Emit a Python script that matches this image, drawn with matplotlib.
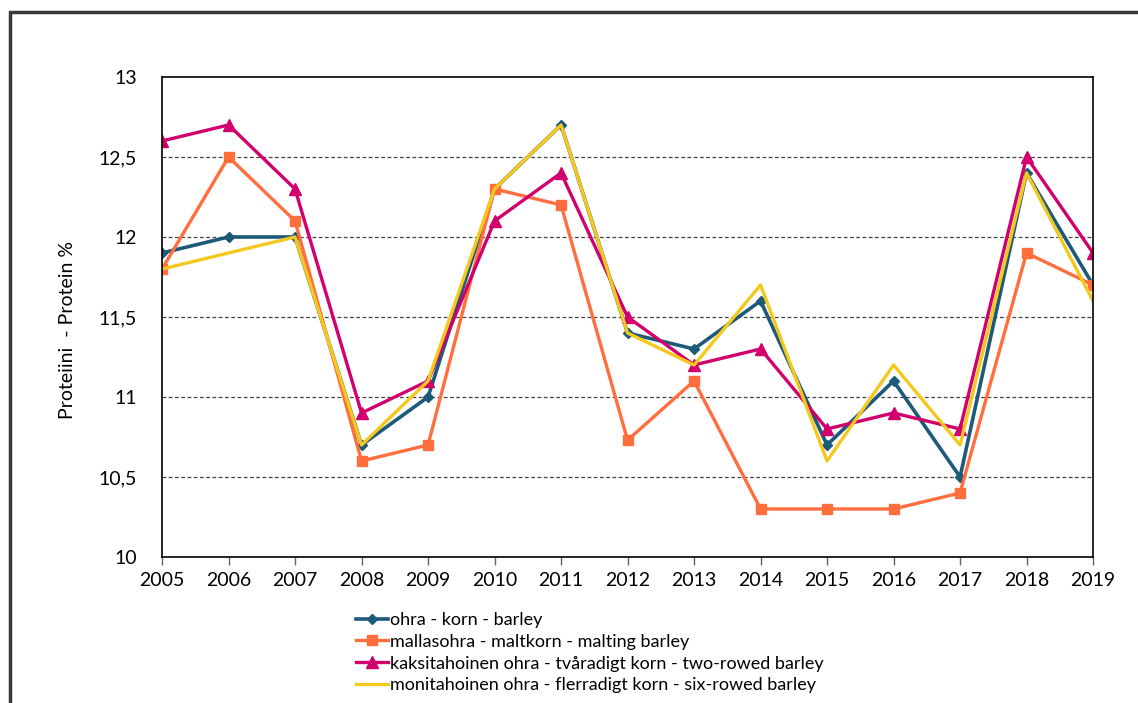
import matplotlib
matplotlib.use('agg')
import matplotlib.pyplot as plt
from matplotlib.patches import Rectangle
from matplotlib.ticker import FuncFormatter

years = list(range(2005, 2020))
barley = [11.9, 12.0, 12.0, 10.7, 11.0, 12.3, 12.7, 11.4, 11.3, 11.6, 10.7, 11.1, 10.5, 12.4, 11.7]
malting = [11.8, 12.5, 12.1, 10.6, 10.7, 12.3, 12.2, 10.73, 11.1, 10.3, 10.3, 10.3, 10.4, 11.9, 11.7]
two_rowed = [12.6, 12.7, 12.3, 10.9, 11.1, 12.1, 12.4, 11.5, 11.2, 11.3, 10.8, 10.9, 10.8, 12.5, 11.9]
six_rowed = [11.8, 11.9, 12.0, 10.7, 11.1, 12.3, 12.7, 11.4, 11.2, 11.7, 10.6, 11.2, 10.7, 12.4, 11.6]

labels = [
    'ohra - korn - barley',
    'mallasohra - maltkorn - malting barley',
    'kaksitahoinen ohra - tvåradigt korn - two-rowed barley',
    'monitahoinen ohra - flerradigt korn - six-rowed barley',
]

plt.rcParams['font.family'] = ['Lato', 'DejaVu Sans']

fig = plt.figure(figsize=(11.38, 7.03), dpi=100)
ax = fig.add_axes([0.1424, 0.2077, 0.8181, 0.6828])

ax.plot(years, barley, color='#1d5a79', lw=2.6, marker='D', ms=5.5, label=labels[0])
ax.plot(years, malting, color='#ff6e3c', lw=2.4, marker='s', ms=7.5, label=labels[1])
ax.plot(years, two_rowed, color='#d1006c', lw=2.4, marker='^', ms=8, label=labels[2])
ax.plot(years, six_rowed, color='#f5c81e', lw=2.4, label=labels[3])

ax.set_xlim(2005, 2019)
ax.set_ylim(10, 13)
ax.set_xticks(years)
ax.set_yticks([10, 10.5, 11, 11.5, 12, 12.5, 13])
ax.yaxis.set_major_formatter(FuncFormatter(lambda v, p: ('%g' % v).replace('.', ',')))
ax.tick_params(axis='y', length=0, pad=18, labelsize=14)
ax.tick_params(axis='x', length=6, width=1, color='#666666', pad=5, labelsize=14)
for y in [10.5, 11, 11.5, 12, 12.5]:
    ax.axhline(y, color='#444444', lw=0.9, ls=(0, (3, 2)), zorder=0)
for s in ax.spines.values():
    s.set_linewidth(1.2)
    s.set_color('black')

ax.set_ylabel('Proteiini  - Protein %', fontsize=14)
ax.yaxis.set_label_coords(-0.092, 0.473)

fig.legend(loc='upper left', bbox_to_anchor=(356 / 1138, 1 - 612 / 703), frameon=False,
           fontsize=13, handlelength=1.75, handletextpad=0.15, labelspacing=0.32,
           borderpad=0, borderaxespad=0)

fig.patches.append(Rectangle((10 / 1138, -0.1), 1.2, 1 - 12 / 703 + 0.1, transform=fig.transFigure,
                             fill=False, edgecolor='#3a3a3a', lw=2.5))

fig.savefig('out.png', dpi=100)
